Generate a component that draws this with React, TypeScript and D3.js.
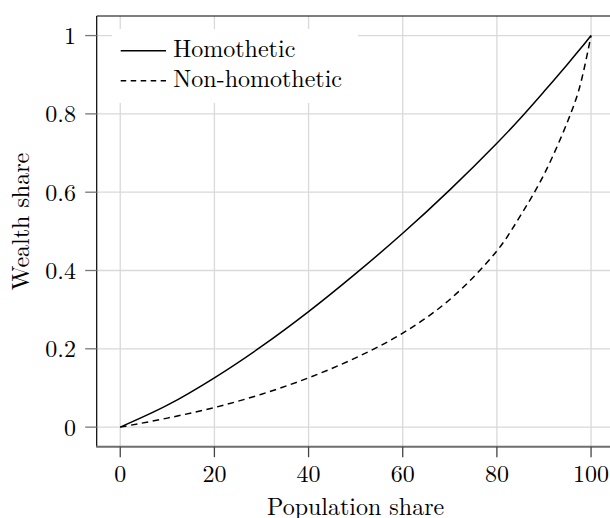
import React from "react";
import * as d3 from "d3";

const popShare = [0, 10, 20, 30, 40, 50, 60, 70, 80, 85, 90, 95, 97.5, 100];
const homothetic = [0, 0.056, 0.126, 0.206, 0.295, 0.392, 0.495, 0.606, 0.725, 0.789, 0.857, 0.927, 0.963, 1];
const nonHomothetic = [0, 0.023, 0.05, 0.084, 0.126, 0.177, 0.24, 0.326, 0.45, 0.54, 0.645, 0.78, 0.865, 1];
const xTicks = [0, 20, 40, 60, 80, 100];
const yTicks = [0, 0.2, 0.4, 0.6, 0.8, 1];
const seriesNames = ["Homothetic", "Non-homothetic"];

const W = 610;
const H = 518;
const ts: React.CSSProperties = { fontFamily: '"Latin Modern Roman"', fontSize: "24px" };

export default function App() {
  const x = d3.scaleLinear().domain([-5, 105]).range([96.7, 614.6]);
  const y = d3.scaleLinear().domain([-0.05, 1.05]).range([446.7, 16]);
  const line = d3
    .line<number>()
    .x((_, i) => x(popShare[i]))
    .y((d) => y(d))
    .curve(d3.curveCatmullRom.alpha(0.5));
  const fmtY = (v: number) => (v === 0 ? "0" : v === 1 ? "1" : String(v));
  const grid = "#d9d9d9";
  return (
    <svg width={W} height={H} style={{ position: "absolute", left: 0, top: 0, background: "#fff" }}>
      <rect x={0} y={0} width={W} height={H} fill="#fff" />
      {xTicks.map((t) => (
        <line key={"gx" + t} x1={x(t)} x2={x(t)} y1={y(1.05)} y2={y(-0.05)} stroke={grid} strokeWidth={1.3} />
      ))}
      {yTicks.map((t) => (
        <line key={"gy" + t} x1={x(-5)} x2={x(105)} y1={y(t)} y2={y(t)} stroke={grid} strokeWidth={1.3} />
      ))}
      <rect x={112} y={29} width={246} height={74} fill="#fff" />
      <path d={line(homothetic) || ""} fill="none" stroke="#000" strokeWidth={1.5} strokeLinejoin="round" />
      <path
        d={line(nonHomothetic) || ""}
        fill="none"
        stroke="#000"
        strokeWidth={1.5}
        strokeDasharray="6.5,4.5"
      />
      <line x1={x(-5)} x2={x(105)} y1={y(1.05)} y2={y(1.05)} stroke="#000" strokeWidth={1.2} />
      <line x1={x(-5)} x2={x(-5)} y1={y(1.05)} y2={y(-0.05)} stroke="#000" strokeWidth={1.2} />
      <line x1={x(105)} x2={x(105)} y1={y(1.05)} y2={y(-0.05)} stroke="#000" strokeWidth={1.2} />
      <line x1={x(-5) - 0.6} x2={x(105)} y1={y(-0.05)} y2={y(-0.05)} stroke="#6e6e6e" strokeWidth={2} />
      {xTicks.map((t) => (
        <g key={"tx" + t}>
          <line x1={x(t)} x2={x(t)} y1={y(-0.05)} y2={y(-0.05) + 10.5} stroke="#444" strokeWidth={1.3} />
          <text x={x(t)} y={482} textAnchor="middle" style={ts} fill="#000">
            {t}
          </text>
        </g>
      ))}
      {yTicks.map((t) => (
        <g key={"ty" + t}>
          <line x1={x(-5) - 11.5} x2={x(-5)} y1={y(t)} y2={y(t)} stroke="#777" strokeWidth={1.3} />
          <text x={76} y={y(t) + 8.5} textAnchor="end" style={ts} fill="#000">
            {fmtY(t)}
          </text>
        </g>
      ))}
      <text x={355.6} y={515} textAnchor="middle" style={ts} fill="#000">
        Population share
      </text>
      <text transform={`translate(29.3,221.5) rotate(-90)`} textAnchor="middle" style={ts} fill="#000">
        Wealth share
      </text>
      <line x1={120.7} x2={166} y1={50.7} y2={50.7} stroke="#000" strokeWidth={1.5} />
      <text x={173.3} y={56.7} style={ts} fill="#000">
        {seriesNames[0]}
      </text>
      <line x1={120.7} x2={166} y1={80.7} y2={80.7} stroke="#000" strokeWidth={1.5} strokeDasharray="5.5,4.5" />
      <text x={173.3} y={86.7} style={ts} fill="#000">
        {seriesNames[1]}
      </text>
    </svg>
  );
}
